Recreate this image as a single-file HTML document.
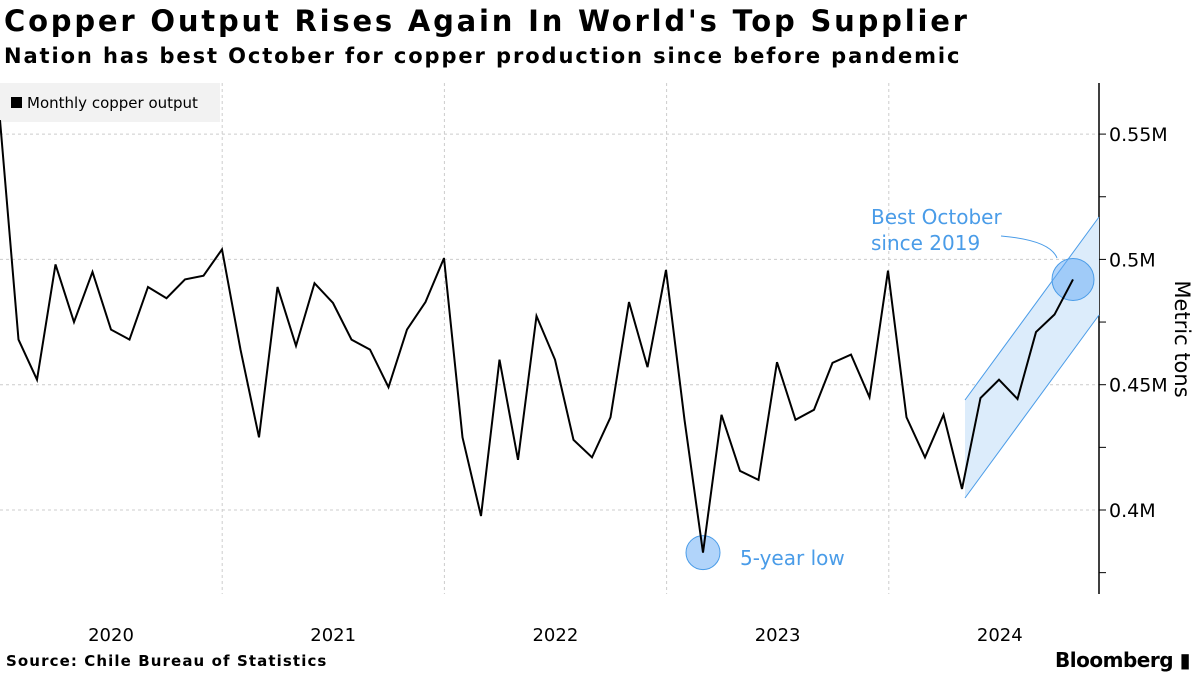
<!DOCTYPE html>
<html><head><meta charset="utf-8"><style>
body{margin:0;width:1200px;height:675px;background:#fff;font-family:"DejaVu Sans","Liberation Sans",sans-serif;overflow:hidden;position:relative}
.t{position:absolute;left:4px;top:4px;font-size:29px;font-weight:bold;color:#000;letter-spacing:2.8px}
.s{position:absolute;left:4px;top:44px;font-size:21px;font-weight:bold;color:#000;letter-spacing:1.9px}
.src{position:absolute;left:6px;top:652px;font-size:15px;font-weight:bold;letter-spacing:1.1px}
.bb{position:absolute;right:10px;top:648px;font-size:20px;font-weight:bold;letter-spacing:-0.5px}
svg{position:absolute;left:0;top:0}
</style></head><body>
<div class="t">Copper Output Rises Again In World's Top Supplier</div>
<div class="s">Nation has best October for copper production since before pandemic</div>
<svg id="c" width="1200" height="675"></svg>
<div class="src">Source: Chile Bureau of Statistics</div>
<div class="bb">Bloomberg ▮</div>
<script>
const values=[0.5556,0.468,0.452,0.498,0.475,0.495,0.472,0.468,0.489,0.4845,0.492,0.4935,0.504,0.464,0.429,0.489,0.4655,0.4905,0.4826,0.468,0.464,0.449,0.472,0.483,0.5005,0.429,0.3976,0.46,0.42,0.4774,0.460,0.428,0.421,0.437,0.483,0.457,0.4958,0.436,0.383,0.438,0.4156,0.412,0.459,0.436,0.440,0.4587,0.462,0.445,0.4955,0.437,0.421,0.438,0.4084,0.4447,0.452,0.4443,0.471,0.478,0.492];
const yTicks=[0.4,0.45,0.5,0.55];
const yTickLabels=["0.4M","0.45M","0.5M","0.55M"];
const years=["2020","2021","2022","2023","2024"];
const lowIndex=38, bestIndex=58;
const NS="http://www.w3.org/2000/svg";
const svg=document.getElementById('c');
const X=i=>i*18.5, Y=v=>510-(v-0.4)/0.05*125.3;
function el(t,a,p){const e=document.createElementNS(NS,t);for(const k in a)e.setAttribute(k,a[k]);(p||svg).appendChild(e);return e;}
yTicks.forEach((v,i)=>{
 const g=el('line',{x1:0,x2:1099,y1:Y(v),y2:Y(v),stroke:'#ccc','stroke-dasharray':'3,3'});
 
 
 const tk=el('line',{x1:1099,x2:1106,y1:Y(v),y2:Y(v),stroke:'#000'});
 
 
 const m=el('line',{x1:1099,x2:1106,y1:Y(v-0.025),y2:Y(v-0.025),stroke:'#000'});
 
 
 const t=el('text',{x:1109,y:Y(v)+7,'font-size':19,fill:'#000'});t.textContent=yTickLabels[i];
 
 
});
years.forEach((y,i)=>{
 const gx=i*222.2;
 if(i>0){const g=el('line',{x1:gx,x2:gx,y1:83,y2:594,stroke:'#ccc','stroke-dasharray':'3,3'});
 
 }
 const t=el('text',{x:gx+111,y:641,'font-size':18,'text-anchor':'middle',fill:'#000'});t.textContent=y;
 
 
});
const ax=el('line',{x1:1099,x2:1099,y1:83,y2:594,stroke:'#000','stroke-width':1.5});


const yt=el('text',{transform:'translate(1175,339) rotate(90)','font-size':21,'text-anchor':'middle',fill:'#000'});yt.textContent='Metric tons';


const lg=el('g',{});


el('rect',{x:0,y:83,width:220,height:39,fill:'#f2f2f2'},lg);
el('rect',{x:11,y:97,width:11,height:11,fill:'#000'},lg);
const lt=el('text',{x:27,y:108,'font-size':15,fill:'#000'},lg);lt.textContent='Monthly copper output';
const b=el('polygon',{points:`965,400 1099,217 1099,315 965,498`,fill:'#dcecfb'});


[[965,400,1099,217],[965,498,1099,315]].forEach(p=>{const l=el('line',{x1:p[0],y1:p[1],x2:p[2],y2:p[3],stroke:'#4a9ce8','stroke-width':1});
 
 });
[[lowIndex,17],[bestIndex,21]].forEach(([i,r])=>{const c=el('circle',{cx:X(i),cy:Y(values[i]),r:r,fill:'rgba(100,170,245,0.5)',stroke:'#4a9ce8'});
 
 });
const ln=el('polyline',{points:values.map((v,i)=>X(i)+','+Y(v)).join(' '),fill:'none',stroke:'#000','stroke-width':2,'stroke-linejoin':'miter'});


const a1=el('text',{x:740,y:565,'font-size':20,fill:'#4a9ce8'});a1.textContent='5-year low';


const a2=el('text',{'font-size':20,fill:'#4a9ce8'});


el('tspan',{x:871,y:224},a2).textContent='Best October';
el('tspan',{x:871,y:250},a2).textContent='since 2019';
const cp=el('path',{d:'M1001,236 Q1050,240 1057,258',fill:'none',stroke:'#4a9ce8'});


</script>
</body></html>
